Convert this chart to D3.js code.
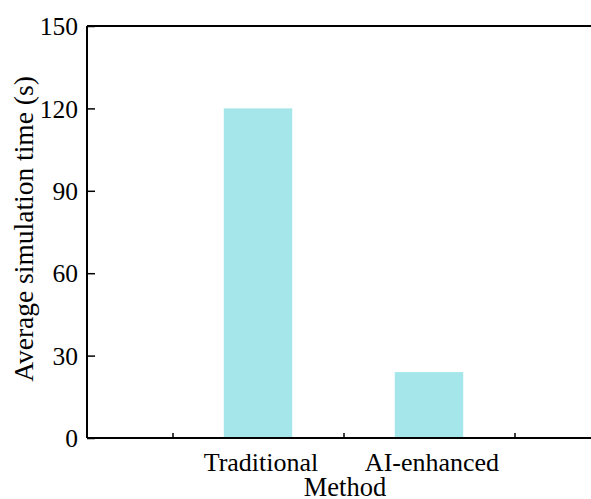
<!DOCTYPE html>
<html><head><meta charset="utf-8">
<script src="https://cdn.jsdelivr.net/npm/d3@7"></script>
<style>body{margin:0;background:#fff}svg{display:block}</style>
</head><body>
<script>
const categories = ["Traditional", "AI-enhanced"];
const values = [120, 24];
const yTicks = [0, 30, 60, 90, 120, 150];

(function () {
const FONT = '"Liberation Serif"';
const W = 591, H = 499;
const mLeft = 87, mTop = 26, mBottom = 438, mRight = 600;
const svg = d3.select("body").append("svg").attr("width", W).attr("height", H);

const x = d3.scaleLinear().domain([0, 3]).range([mLeft, mRight]);
const y = d3.scaleLinear().domain([0, 150]).range([mBottom, mTop]);
const barW = 0.4;

svg.selectAll("rect.bar").data(values).enter().append("rect")
  .attr("class", "bar")
  .attr("x", (d, i) => x(i + 1 - barW / 2))
  .attr("width", (d, i) => x(i + 1 + barW / 2) - x(i + 1 - barW / 2))
  .attr("y", d => y(d))
  .attr("height", d => y(0) - y(d))
  .attr("fill", "#a5e6eb");

const yAxis = d3.axisLeft(y).tickValues(yTicks).tickSize(-8).tickPadding(9);
const gy = svg.append("g").attr("transform", `translate(${mLeft},0)`).call(yAxis);
gy.attr("font-family", null).attr("font-size", null);
gy.select(".domain").remove();
gy.selectAll(".tick line").attr("stroke", "#000").attr("stroke-width", 1.5);
gy.selectAll(".tick text").style("font-family", FONT).style("font-size", "25.5px")
  .attr("fill", "#000").attr("dy", "0.34em");

const xAxis = d3.axisBottom(x).tickValues([0.5, 1.5, 2.5]).tickSize(-5).tickFormat("");
const gx = svg.append("g").attr("transform", `translate(0,${mBottom})`).call(xAxis);
gx.select(".domain").remove();
gx.selectAll(".tick line").attr("stroke", "#000").attr("stroke-width", 1.5);

svg.selectAll("text.cat").data(categories).enter().append("text")
  .attr("class", "cat")
  .attr("x", (d, i) => x(i + 1) + 3)
  .attr("y", 471)
  .attr("text-anchor", "middle")
  .style("font-family", FONT)
  .style("font-size", "26px")
  .text(d => d);

svg.append("line").attr("x1", mLeft).attr("x2", mLeft).attr("y1", mTop).attr("y2", mBottom)
  .attr("stroke", "#000").attr("stroke-width", 2);
svg.append("line").attr("x1", mLeft).attr("x2", W).attr("y1", mBottom).attr("y2", mBottom)
  .attr("stroke", "#000").attr("stroke-width", 2);
svg.append("line").attr("x1", mLeft).attr("x2", W).attr("y1", mTop).attr("y2", mTop)
  .attr("stroke", "#000").attr("stroke-width", 2);

svg.append("text").attr("x", 345).attr("y", 496).attr("text-anchor", "middle")
  .style("font-family", FONT).style("font-size", "26.5px").text("Method");
svg.append("text").attr("transform", `translate(33,229) rotate(-90)`)
  .attr("text-anchor", "middle").style("font-family", FONT).style("font-size", "27.5px")
  .text("Average simulation time (s)");
})();
</script>
</body></html>
